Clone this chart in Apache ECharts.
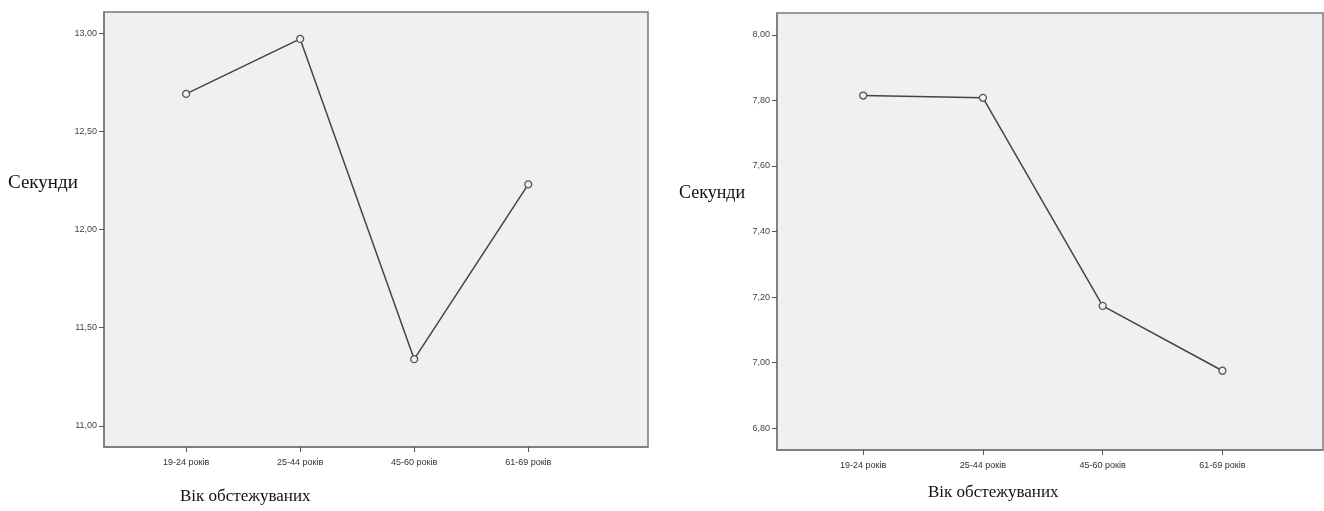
<!DOCTYPE html>
<html><head><meta charset="utf-8">
<script src="https://cdn.jsdelivr.net/npm/echarts@6/dist/echarts.min.js"></script>
<style>html,body{margin:0;padding:0;background:#fff}#c{width:1324px;height:511px}</style>
</head><body><div id="c"></div>
<script>
var categories = ['19-24 років', '25-44 років', '45-60 років', '61-69 років'];
var leftValues = [12.69, 12.97, 11.34, 12.23];
var rightValues = [7.815, 7.808, 7.173, 6.975];
var leftTicks = [11.0, 11.5, 12.0, 12.5, 13.0];
var rightTicks = [6.8, 7.0, 7.2, 7.4, 7.6, 7.8, 8.0];
var yTitle = 'Секунди';
var xTitle = 'Вік обстежуваних';

var positions = categories.map(function (c, i) { return i + 1; });
function pairs(vals) { return vals.map(function (v, i) { return [positions[i], v]; }); }
function fmt(v) { return v.toFixed(2).replace('.', ','); }

var axisColor = '#7a7a7a';
function xAxis(gi, max) {
  return {
    type: 'value', gridIndex: gi, min: 0.28, max: max,
    axisLine: { show: true, lineStyle: { color: axisColor, width: 1.5 } },
    axisTick: { show: true, customValues: positions, length: 5, lineStyle: { color: '#555' } },
    axisLabel: { customValues: positions, margin: 11, color: '#333', fontSize: 9, fontFamily: 'Liberation Sans',
      formatter: function (v) { return categories[Math.round(v) - 1] || ''; } },
    splitLine: { show: false }
  };
}
function yAxis(gi, min, max, ticks) {
  return {
    type: 'value', gridIndex: gi, min: min, max: max,
    axisLine: { show: true, lineStyle: { color: axisColor, width: 1.5 } },
    axisTick: { show: true, customValues: ticks, length: 5, lineStyle: { color: '#555' } },
    axisLabel: { customValues: ticks, margin: 7, color: '#444', fontSize: 9, fontFamily: 'Liberation Sans', formatter: fmt },
    splitLine: { show: false }
  };
}
function series(gi, vals) {
  return {
    type: 'line', xAxisIndex: gi, yAxisIndex: gi, data: pairs(vals),
    symbol: 'circle', symbolSize: 7,
    lineStyle: { color: '#444', width: 1.5 },
    itemStyle: { color: '#f0f0f0', borderColor: '#555', borderWidth: 1.3 },
    z: 3,
    animation: false
  };
}
var chart = echarts.init(document.getElementById('c'));
chart.setOption({
  animation: false,
  grid: [
    { left: 104, top: 12, width: 544, height: 435, show: true, backgroundColor: '#f0f0f0', borderColor: axisColor, borderWidth: 1.5 },
    { left: 777, top: 13, width: 546, height: 437, show: true, backgroundColor: '#f0f0f0', borderColor: axisColor, borderWidth: 1.5 }
  ],
  xAxis: [xAxis(0, 5.05), xAxis(1, 4.84)],
  yAxis: [yAxis(0, 10.893, 13.107, leftTicks), yAxis(1, 6.733, 8.067, rightTicks)],
  series: [series(0, leftValues), series(1, rightValues)],
  graphic: [
    { type: 'text', left: 8, top: 174, style: { text: yTitle, font: '19px "Liberation Serif"', fill: '#111' } },
    { type: 'text', left: 679, top: 184, style: { text: yTitle, font: '18px "Liberation Serif"', fill: '#111' } },
    { type: 'text', left: 180, top: 488, style: { text: xTitle, font: '17px "Liberation Serif"', fill: '#111' } },
    { type: 'text', left: 928, top: 484, style: { text: xTitle, font: '17px "Liberation Serif"', fill: '#111' } }
  ]
});
</script></body></html>
